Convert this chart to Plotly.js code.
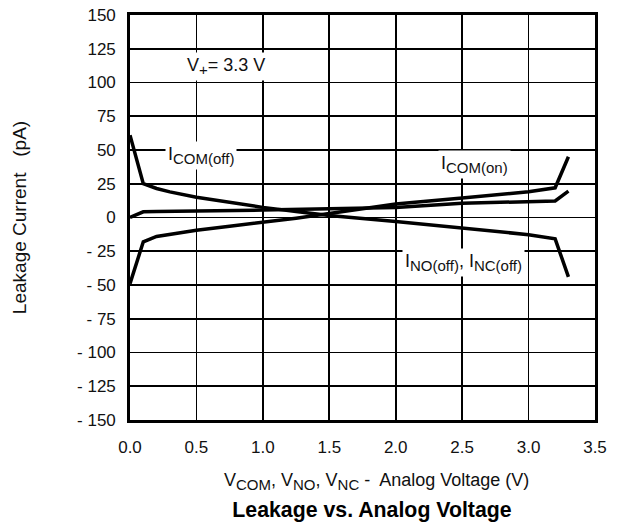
<!DOCTYPE html>
<html>
<head>
<meta charset="utf-8">
<script src="https://cdn.plot.ly/plotly-3.0.1.min.js"></script>
<style>html,body{margin:0;padding:0;background:#fff;}#chart{width:620px;height:522px;}</style>
</head>
<body>
<div id="chart"></div>
<script>
// Analog voltage (V) sample points
const vOff = [0, 0.1, 0.2, 0.3, 0.5, 0.75, 1.0, 1.25, 1.5, 2.0, 2.5, 3.0, 3.2, 3.3];
// I_COM(off) leakage (pA)
const iComOff = [61, 25, 21.5, 19, 15, 11, 7.5, 4.5, 1.5, -3, -8, -12.7, -15.8, -44];
// I_NO(off), I_NC(off) leakage (pA)
const iNoOff = [-49, -18, -14, -12.5, -9.5, -6.5, -3.7, -0.5, 3, 10, 14.5, 19, 22, 45];
// I_COM(on)
const vOn = [0, 0.1, 0.2, 0.5, 1.0, 1.5, 2.0, 2.5, 3.0, 3.2, 3.3];
const iComOn = [0, 4.2, 4.5, 4.8, 5.5, 6.5, 7.5, 10.5, 12, 12.3, 19.5];

const xTicks = [0, 0.5, 1.0, 1.5, 2.0, 2.5, 3.0, 3.5];
const xTickText = ["0.0", "0.5", "1.0", "1.5", "2.0", "2.5", "3.0", "3.5"];
const yTicks = [-150, -125, -100, -75, -50, -25, 0, 25, 50, 75, 100, 125, 150];
const yTickText = ["- 150", "- 125", "- 100", "- 75", "- 50", "- 25", "0", "25", "50", "75", "100", "125", "150"];

const FONT = "Liberation Sans, Arial, Helvetica, sans-serif";
const lineStyle = {color: "#000", width: 3.5};
const sub = s => "<sub><span style='font-size:15px'>" + s + "</span></sub>";

const traces = [
  {x: vOff, y: iComOff, mode: "lines", line: lineStyle, name: "I_COM(off)"},
  {x: vOff, y: iNoOff, mode: "lines", line: lineStyle, name: "I_NO(off), I_NC(off)"},
  {x: vOn, y: iComOn, mode: "lines", line: lineStyle, name: "I_COM(on)"}
];

const ann = (text, x, y, extra) => Object.assign({
  text: text, x: x, y: y, xref: "x", yref: "y", showarrow: false,
  bgcolor: "#fff", borderpad: 2, font: {family: FONT, size: 18, color: "#111"}
}, extra || {});

const layout = {
  width: 620, height: 522,
  margin: {l: 130, r: 25, t: 15, b: 102},
  paper_bgcolor: "#fff", plot_bgcolor: "#fff",
  showlegend: false,
  font: {family: FONT, size: 17, color: "#111"},
  title: {
    text: "<b>Leakage vs. Analog Voltage</b>",
    font: {family: FONT, size: 21.3, color: "#000"},
    xref: "container", yref: "container",
    x: 372 / 620, y: 1 - 510 / 522, xanchor: "center", yanchor: "middle"
  },
  xaxis: {
    range: [0, 3.5], tickvals: xTicks, ticktext: xTickText,
    showgrid: true, gridcolor: "#000", gridwidth: 1.8,
    showline: true, linecolor: "#000", linewidth: 2.8, mirror: true,
    ticks: "", ticklabelstandoff: 10, zeroline: false,
    tickfont: {family: FONT, size: 17, color: "#111"}, fixedrange: true
  },
  yaxis: {
    range: [-150, 150], tickvals: yTicks, ticktext: yTickText,
    showgrid: true, gridcolor: "#000", gridwidth: 1.8,
    showline: true, linecolor: "#000", linewidth: 2.8, mirror: true,
    ticks: "", ticklabelstandoff: 8, zeroline: false,
    tickfont: {family: FONT, size: 17, color: "#111"},
    title: {text: "Leakage Current&nbsp;&nbsp; (pA)", standoff: 46, font: {family: FONT, size: 19, color: "#111"}},
    fixedrange: true
  },
  annotations: [
    ann("V" + sub("+") + "= 3.3 V", 0.72, 111.5),
    ann("I" + sub("COM(off)"), 0.535, 46),
    ann("I" + sub("COM(on)"), 2.59, 39),
    ann("I" + sub("NO(off)") + ", I" + sub("NC(off)"), 2.51, -33),
    {
      text: "V" + sub("COM") + ", V" + sub("NO") + ", V" + sub("NC") + " -&nbsp; Analog Voltage (V)",
      xref: "paper", yref: "paper", x: (376.7 - 130) / 465, y: (420 - 482) / 405,
      xanchor: "center", yanchor: "middle", showarrow: false,
      font: {family: FONT, size: 18, color: "#111"}
    }
  ]
};

Plotly.newPlot("chart", traces, layout, {staticPlot: true, displayModeBar: false});
</script>
</body>
</html>
